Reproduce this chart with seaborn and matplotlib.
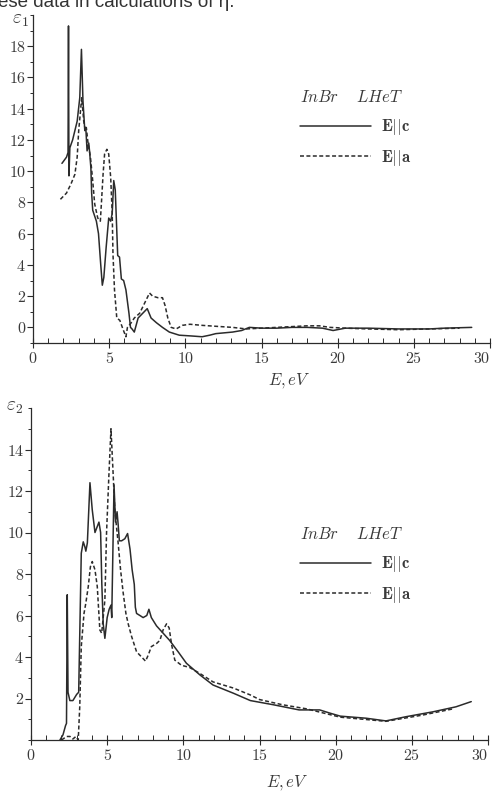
import numpy as np
import pandas as pd
import matplotlib
matplotlib.use("Agg")
import matplotlib.pyplot as plt
from matplotlib.ticker import MultipleLocator, FixedLocator
import seaborn as sns

# ---------------- data ----------------
# eps1, E||c (solid)
e1c_x = [1.9, 2.2, 2.3, 2.33, 2.36, 2.42, 2.6, 2.9, 3.07, 3.18, 3.28, 3.4, 3.47, 3.55, 3.66,
         3.72, 3.8, 3.85, 3.92, 4.16, 4.3, 4.44, 4.55, 4.65, 4.8, 4.97, 5.1, 5.2, 5.3, 5.4,
         5.56, 5.68, 5.8, 5.95, 6.1, 6.3, 6.4, 6.5, 6.65, 6.9, 7.2, 7.5, 7.75, 8.1, 8.5, 8.95,
         9.6, 10.4, 11.1, 11.6, 12.0, 13.1, 13.7, 14.2, 15.0, 16.0, 17.0, 18.0, 19.0, 19.7,
         20.5, 22.0, 24.0, 26.0, 27.0, 28.8]
e1c_y = [10.5, 10.9, 11.2, 19.3, 9.7, 11.5, 12.0, 13.2, 14.7, 17.8, 14.5, 12.6, 12.7, 11.3, 11.8,
         11.2, 10.2, 8.6, 7.5, 6.8, 6.0, 4.1, 2.7, 3.2, 5.1, 7.0, 6.8, 7.3, 9.4, 8.8,
         4.6, 4.5, 3.1, 3.0, 2.4, 0.9, 0.0, -0.1, -0.3, 0.6, 0.9, 1.2, 0.6, 0.3, 0.0, -0.3,
         -0.5, -0.55, -0.6, -0.5, -0.4, -0.3, -0.2, 0.0, -0.05, -0.05, 0.0, 0.0, -0.05, -0.2,
         -0.05, -0.05, -0.1, -0.1, -0.05, 0.0]
# eps1, E||a (dashed)
e1a_x = [1.8, 2.2, 2.5, 2.75, 2.9, 3.0, 3.14, 3.2, 3.33, 3.44, 3.5, 3.6, 3.77, 3.9, 4.05, 4.25,
         4.42, 4.5, 4.6, 4.7, 4.85, 4.97, 5.1, 5.2, 5.25, 5.35, 5.5, 5.7, 5.9, 6.1, 6.2, 6.45,
         6.65, 7.0, 7.3, 7.65, 7.85, 8.2, 8.5, 8.67, 8.85, 9.07, 9.4, 9.8, 10.3, 11.1, 12.0,
         13.1, 14.0, 15.0, 16.0, 17.0, 18.0, 18.8, 19.5, 20.5, 22.0, 24.0, 26.0, 28.0]
e1a_y = [8.2, 8.6, 9.2, 9.8, 10.9, 12.6, 14.1, 14.7, 13.2, 12.6, 12.8, 11.9, 10.9, 9.6, 7.9, 7.0,
         6.8, 8.1, 9.8, 11.1, 11.4, 11.1, 9.6, 7.3, 4.7, 2.4, 0.6, 0.45, -0.1, -0.6, 0.0, 0.3,
         0.6, 0.9, 1.5, 2.2, 2.0, 1.9, 1.9, 1.4, 0.6, 0.0, -0.1, 0.13, 0.2, 0.13, 0.07,
         0.0, -0.1, -0.05, 0.0, 0.05, 0.1, 0.1, 0.0, -0.05, -0.1, -0.15, -0.1, -0.05]
# eps2, E||c (solid)
e2c_x = [1.9, 2.1, 2.27, 2.33, 2.38, 2.43, 2.55, 2.75, 3.0, 3.13, 3.3, 3.43, 3.54, 3.6, 3.7,
         3.87, 4.02, 4.2, 4.46, 4.57, 4.65, 4.74, 4.85, 5.0, 5.13, 5.25, 5.3, 5.35, 5.45, 5.55,
         5.65, 5.72, 5.8, 5.95, 6.16, 6.34, 6.5, 6.64, 6.78, 6.85, 6.93, 7.15, 7.36, 7.6, 7.74,
         7.9, 8.24, 8.67, 9.1, 9.66, 10.2, 11.1, 11.95, 13.3, 14.4, 15.9, 17.6, 18.95, 19.6,
         20.3, 22.0, 23.3, 24.6, 26.4, 27.9, 28.9]
e2c_y = [0.0, 0.25, 0.7, 0.8, 7.0, 2.3, 1.9, 1.9, 2.2, 2.3, 9.0, 9.55, 9.3, 9.1, 9.5,
         12.4, 11.1, 10.0, 10.5, 10.0, 7.5, 5.6, 4.9, 5.9, 6.3, 6.5, 5.9, 8.0, 12.3, 10.5,
         11.0, 10.4, 9.6, 9.6, 9.7, 9.95, 9.2, 8.2, 7.5, 6.4, 6.1, 6.0, 5.9, 6.0, 6.3,
         5.9, 5.5, 5.15, 4.8, 4.25, 3.7, 3.13, 2.65, 2.25, 1.9, 1.7, 1.45, 1.45, 1.3,
         1.15, 1.05, 0.92, 1.12, 1.36, 1.6, 1.85]
# eps2, E||a (dashed)
e2a_x = [2.0, 2.34, 2.56, 2.75, 2.95, 3.1, 3.2, 3.3, 3.48, 3.6, 3.76, 3.9, 4.02, 4.2, 4.35,
         4.52, 4.64, 4.85, 4.96, 5.11, 5.25, 5.4, 5.5, 5.72, 5.88, 6.05, 6.23, 6.38, 6.6,
         6.93, 7.26, 7.52, 7.7, 7.9, 8.24, 8.46, 8.67, 8.9, 9.07, 9.23, 9.44, 9.88, 10.4,
         11.1, 11.95, 13.3, 14.4, 15.0, 16.5, 18.1, 20.3, 23.3, 25.7, 27.7]
e2a_y = [0.0, 0.17, 0.17, 0.05, 0.17, 0.0, 1.6, 4.5, 6.1, 6.6, 7.4, 8.35, 8.6, 8.2, 7.4,
         5.3, 5.15, 6.75, 10.0, 12.7, 15.0, 12.7, 11.1, 9.5, 8.2, 7.1, 6.1, 5.6, 5.0,
         4.25, 4.0, 3.8, 4.1, 4.5, 4.65, 4.8, 5.3, 5.6, 5.4, 4.6, 3.85, 3.6, 3.5,
         3.2, 2.8, 2.5, 2.17, 1.95, 1.7, 1.5, 1.1, 0.9, 1.2, 1.5]

pol_labels = [r"$\mathbf{E}||\mathbf{c}$", r"$\mathbf{E}||\mathbf{a}$"]
legend_title = r"$InBr\quad\;LHeT$"
x_ticks = [0, 5, 10, 15, 20, 25, 30]
y1_ticks = [0, 2, 4, 6, 8, 10, 12, 14, 16, 18]
y2_ticks = [2, 4, 6, 8, 10, 12, 14]
caption = "ese data in calculations of \u03b7."

# ---------------- style ----------------
sns.set_theme(style="ticks")
plt.rcParams["font.family"] = ["cmr10", "DejaVu Serif"]
plt.rcParams["mathtext.fontset"] = "cm"
plt.rcParams["axes.formatter.use_mathtext"] = True
plt.rcParams["axes.unicode_minus"] = False

ink = "#2b2b2b"
txt = "#3a3a3a"

fig = plt.figure(figsize=(4.96, 7.93), dpi=100)
ax1 = fig.add_axes([33 / 496, (793 - 343) / 793, 457 / 496, 328 / 793])
ax2 = fig.add_axes([31 / 496, (793 - 740) / 793, 457 / 496, 332 / 793])

def make_df(xc, yc, xa, ya):
    d1 = pd.DataFrame({"E": xc, "eps": yc, "pol": pol_labels[0]})
    d2 = pd.DataFrame({"E": xa, "eps": ya, "pol": pol_labels[1]})
    return pd.concat([d1, d2], ignore_index=True)

df1 = make_df(e1c_x, e1c_y, e1a_x, e1a_y)
df2 = make_df(e2c_x, e2c_y, e2a_x, e2a_y)

dash_map = {pol_labels[0]: "", pol_labels[1]: (2.6, 1.6)}

for ax, df, ylim, yt, lab, leg_anchor, ylab_pos, xlab_y in [
    (ax1, df1, (-1, 20), y1_ticks, r"$\varepsilon_1$", (0.565, 0.80), (20, 20), -0.085),
    (ax2, df2, (0, 16), y2_ticks, r"$\varepsilon_2$", (0.57, 0.67), (15, 407), -0.1),
]:
    sns.lineplot(data=df, x="E", y="eps", style="pol", dashes=dash_map,
                 color=ink, linewidth=1.1, estimator=None, sort=False,
                 legend=False, ax=ax)
    ax.set_xlim(0, 30)
    ax.set_ylim(*ylim)
    sns.despine(ax=ax)
    for s in ("left", "bottom"):
        ax.spines[s].set_color(ink)
        ax.spines[s].set_linewidth(0.9)
    ax.xaxis.set_major_locator(FixedLocator(x_ticks))
    ax.xaxis.set_minor_locator(MultipleLocator(1))
    ax.yaxis.set_major_locator(FixedLocator(yt))
    ax.yaxis.set_minor_locator(MultipleLocator(1))
    ax.tick_params(axis="x", which="major", direction="inout", length=7, width=0.8,
                   color=ink, labelsize=11.5, labelcolor=txt, pad=2)
    ax.tick_params(axis="x", which="minor", direction="in", length=3.5, width=0.7, color=ink)
    ax.tick_params(axis="y", which="major", direction="out", length=4, width=0.8,
                   color=ink, labelsize=11.5, labelcolor=txt, pad=1)
    ax.tick_params(axis="y", which="minor", direction="out", length=2.5, width=0.7, color=ink)
    ax.set_ylabel("")
    ax.set_xlabel(r"$E, eV$", fontsize=12, color=txt, labelpad=1)
    ax.xaxis.set_label_coords(0.56, xlab_y)
    fig.text(ylab_pos[0] / 496, 1 - ylab_pos[1] / 793, lab, fontsize=14, color=txt,
             ha="center", va="center")
    lines = ax.get_lines()[:2]
    leg = ax.legend(lines, pol_labels, title=legend_title, loc="upper left",
                    bbox_to_anchor=leg_anchor, frameon=False, handlelength=4.3,
                    handletextpad=0.6, labelspacing=0.62, fontsize=12,
                    title_fontsize=12, alignment="left", borderpad=0)
    leg._legend_box.sep = 9
    for t in leg.get_texts():
        t.set_color(txt)
    leg.get_title().set_color(txt)

fig.canvas.draw()
for ax in (ax1, ax2):
    for t in ax.get_xticklabels():
        if t.get_text() in ("$\\mathdefault{30}$", "30"):
            t.set_horizontalalignment("right")

fig.text(-0.005, 1 - 7 / 793, caption, family=["Liberation Sans", "DejaVu Sans"],
         fontsize=13.5, color="#333333", ha="left", va="baseline")

fig.savefig("out.png", dpi=100)
